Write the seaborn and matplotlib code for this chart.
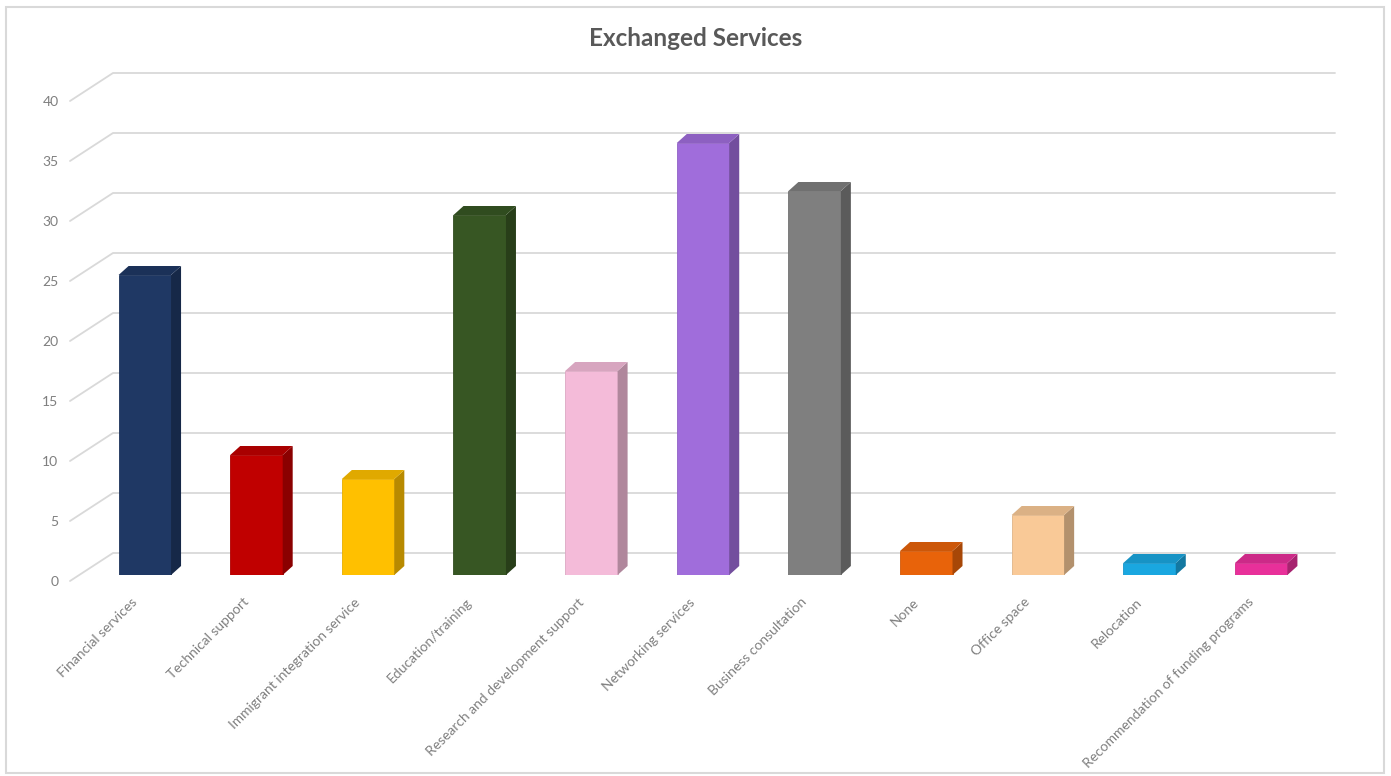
import numpy as np
import matplotlib
matplotlib.use("Agg")
import matplotlib.pyplot as plt
import matplotlib.transforms as mtransforms
from matplotlib.lines import Line2D
from matplotlib.patches import Polygon, Rectangle
from matplotlib.colors import to_rgb
import seaborn as sns

# --- data -----------------------------------------------------------------
categories = [
    "Financial services",
    "Technical support",
    "Immigrant integration service",
    "Education/training",
    "Research and development support",
    "Networking services",
    "Business consultation",
    "None",
    "Office space",
    "Relocation",
    "Recommendation of funding programs",
]
counts = [25, 10, 8, 30, 17, 36, 32, 2, 5, 1, 1]
bar_colors = [
    "#1F3864", "#C00000", "#FFC000", "#375623", "#F4BBD9", "#A06DDB",
    "#7F7F7F", "#E8630A", "#F9C997", "#1AA7E0", "#E8309A",
]
y_ticks = [0, 5, 10, 15, 20, 25, 30, 35, 40]
title = "Exchanged Services"

# --- style ----------------------------------------------------------------
sns.set_theme(style="white")
plt.rcParams["font.family"] = ["Lato", "DejaVu Sans"]

W, H, DPI = 1391, 776, 100
fig = plt.figure(figsize=(W / DPI, H / DPI), dpi=DPI)
fig.patch.set_facecolor("white")

# axes placed in pixel units (left, bottom measured from figure corner)
ax_left, ax_right = 89, 1317
ax_bottom_from_top, ax_top_from_top = 575, 95
ax = fig.add_axes([
    ax_left / W,
    (H - ax_bottom_from_top) / H,
    (ax_right - ax_left) / W,
    (ax_bottom_from_top - ax_top_from_top) / H,
])
ax.set_facecolor("none")

sns.barplot(x=categories, y=counts, hue=categories, palette=bar_colors,
            legend=False, width=0.47, saturation=1, ax=ax, zorder=3)

ax.set_xlim(-0.5, len(categories) - 0.5)
ax.set_ylim(0, 40)
ax.set_yticks(y_ticks)
ax.set_yticklabels([str(t) for t in y_ticks])
ax.set_xlabel("")
ax.set_ylabel("")
for s in ax.spines.values():
    s.set_visible(False)
ax.tick_params(axis="both", length=0, colors="#7F7F7F", labelsize=10)
ax.tick_params(axis="y", pad=22)
ax.tick_params(axis="x", pad=15)
ax.grid(False)

# value labels sit slightly below their tick level (front plane)
ydown = mtransforms.ScaledTranslation(0, -6 / DPI, fig.dpi_scale_trans)
for lab in ax.get_yticklabels():
    lab.set_transform(lab.get_transform() + ydown)

# rotated category labels ending just left of each bar
shift = mtransforms.ScaledTranslation(-14 / DPI, 0, fig.dpi_scale_trans)
for lab in ax.get_xticklabels():
    lab.set_rotation(45)
    lab.set_ha("right")
    lab.set_va("top")
    lab.set_rotation_mode("anchor")
    lab.set_transform(lab.get_transform() + shift)
    lab.set_color("#7F7F7F")
    lab.set_fontsize(10)

fig.canvas.draw()
ident = mtransforms.IdentityTransform()

# back-wall gridlines with slanted connectors to the value labels
back_dy = 22
for v in y_ticks:
    yd = ax.transData.transform((0, v))[1]
    line = Line2D([70, 70 + 43, 1335], [yd - 6, yd + back_dy, yd + back_dy],
                  color="#D9D9D9", lw=1.3, transform=ident, zorder=0)
    fig.add_artist(line)


def shade(c, f):
    r, g, b = to_rgb(c)
    return (r * f, g * f, b * f)


# extruded side and top faces built from each bar's geometry
depth_x, depth_y = 10, 9
for patch, col in zip(ax.patches, bar_colors):
    x0, y0 = patch.get_x(), patch.get_y()
    x1, y1 = x0 + patch.get_width(), y0 + patch.get_height()
    (px0, py0) = ax.transData.transform((x0, y0))
    (px1, py1) = ax.transData.transform((x1, y1))
    side = Polygon([(px1, py0), (px1, py1), (px1 + depth_x, py1 + depth_y),
                    (px1 + depth_x, py0 + depth_y)],
                   closed=True, facecolor=shade(col, 0.72), edgecolor="none",
                   transform=ident, zorder=2)
    top = Polygon([(px0, py1), (px1, py1), (px1 + depth_x, py1 + depth_y),
                   (px0 + depth_x, py1 + depth_y)],
                  closed=True, facecolor=shade(col, 0.88), edgecolor="none",
                  transform=ident, zorder=2)
    fig.add_artist(side)
    fig.add_artist(top)
    patch.set_edgecolor(shade(col, 0.9))
    patch.set_linewidth(0.6)
    patch.set_zorder(3)

# title
fig.text(0.5, 1 - 38 / H, title, ha="center", va="center",
         fontsize=17.5, fontweight="bold", color="#595959")

# chart frame
frame = Rectangle((6, H - 773), 1378, 766, fill=False, edgecolor="#D9D9D9",
                  lw=1.5, transform=ident)
fig.add_artist(frame)

fig.savefig("out.png", dpi=DPI, facecolor="white")
